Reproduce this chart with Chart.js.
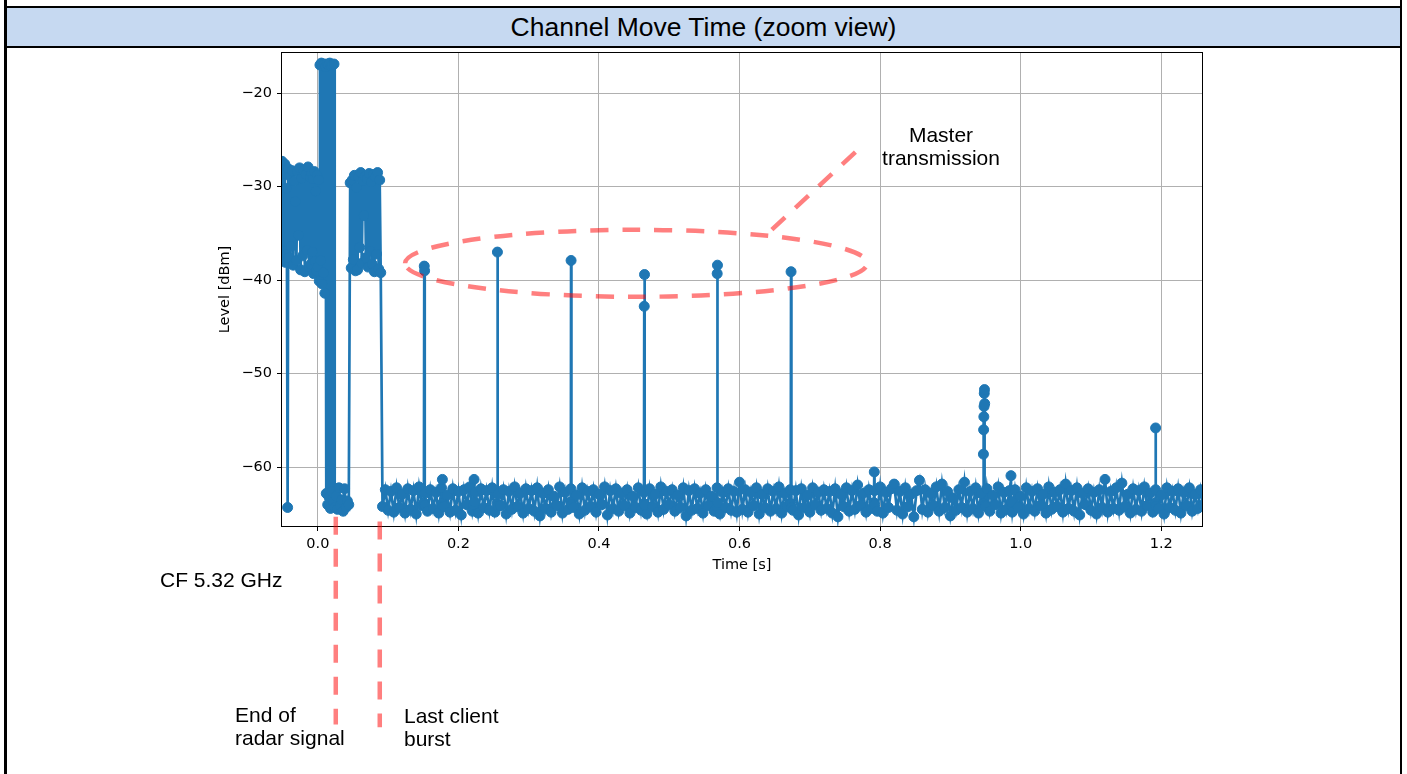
<!DOCTYPE html>
<html>
<head>
<meta charset="utf-8">
<title>Channel Move Time (zoom view)</title>
<script src="https://cdn.jsdelivr.net/npm/chart.js@4.4.1/dist/chart.umd.min.js"></script>
<style>
    body { margin: 0; width: 1407px; height: 774px; background: #fff; position: relative; overflow: hidden; font-family: "Liberation Sans", Arial, sans-serif; }
    .bar { position: absolute; background: #000; }
    #head { position: absolute; left: 7px; top: 8px; width: 1393px; height: 38px; background: #c6d9f1; text-align: center; font-size: 26.5px; line-height: 39px; color: #000; }
    #chart { position: absolute; left: 0; top: 0; }
    .note { position: absolute; font-size: 21px; line-height: 23.4px; color: #000; white-space: nowrap; }
</style>
</head>
<body>
<div class="bar" style="left:4px;top:6px;width:1398px;height:2px"></div>
<div id="head">Channel Move Time (zoom view)</div>
<div class="bar" style="left:4px;top:45.5px;width:1398px;height:2px"></div>
<div class="bar" style="left:4px;top:0;width:3px;height:774px"></div>
<div class="bar" style="left:1400px;top:0;width:2px;height:774px"></div>
<canvas id="chart" width="1407" height="774"></canvas>
<div class="note" style="left:880px;top:123px;width:122px;text-align:center">Master<br>transmission</div>
<div class="note" style="left:160px;top:568px">CF 5.32 GHz</div>
<div class="note" style="left:235px;top:703px">End of<br>radar signal</div>
<div class="note" style="left:404px;top:704px">Last client<br>burst</div>
<script>
// 时间单位 ms, 电平单位 dBm
// 雷达前的客户端突发
var burstATimes = [-51, -50, -49, -48, -47, -46, -45, -44, -43, -42, -41, -39.5, -38, -36.5, -35, -33.5, -32, -30.5, -29, -27.5, -26, -24.5, -23, -21.5, -20, -18.5, -17, -15.5, -14, -12.5]
var burstALevels = [-27.3, -37.8, -28.6, -36.9, -27.6, -38.1, -30.2, -37.2, -64.3, -28.1, -37.6, -28.9, -36.4, -28.3, -38.4, -29.4, -31.6, -37.9, -28.4, -35.2, -28.0, -38.9, -29.1, -37.4, -28.3, -39.1, -28.7, -36.8, -27.9, -38.6]

// 雷达信号
var radarTimes = [-11, -10, -9, -8, -7, -6, -5, -4, -3, -2, -1, 0, 1, 2, 3, 4, 5, 6, 7, 8, 9, 10, 11, 12, 13, 14, 15, 16, 17, 18, 19, 20, 21, 22, 23, 24]
var radarLevels = [-29.0, -38.3, -28.6, -37.0, -29.2, -39.3, -28.4, -38.0, -30.5, -39.0, -28.8, -38.6, -29.3, -40.1, -17.0, -37.9, -16.8, -40.4, -17.1, -39.2, -16.9, -41.4, -17.2, -62.8, -16.9, -64.0, -17.0, -63.2, -16.8, -64.4, -17.1, -62.6, -17.0, -63.7, -16.9, -64.3]

// 雷达结束后的底噪
var gapTimes = [26, 28, 30, 32, 34, 36, 38, 40, 42, 44]
var gapLevels = [-63.1, -64.5, -62.2, -64.1, -63.5, -64.7, -62.3, -64.3, -63.6, -64.0]

// 最后一个客户端突发
var burstBTimes = [46, 47.5, 49, 50.5, 52, 53.5, 55, 56.5, 58, 59.5, 61, 62.5, 64, 65.5, 67, 68.5, 70, 71.5, 73, 74.5, 76, 77.5, 79, 80.5, 82, 83.5, 85, 86.5, 88, 89.5]
var burstBLevels = [-29.6, -38.7, -29.3, -37.8, -28.8, -39.0, -30.1, -38.9, -29.0, -36.5, -28.5, -38.2, -29.4, -33.1, -28.9, -37.6, -29.2, -38.6, -28.6, -36.9, -29.5, -38.3, -28.7, -39.1, -29.0, -37.2, -28.5, -38.8, -29.3, -39.2]

// 底噪
var floorATimes = [92, 96, 100, 104, 108, 112, 116, 120, 124, 128, 132, 136, 140, 144, 148, 152, 156, 160, 164, 168, 172, 176, 180, 184, 188, 192, 196, 200, 204, 208, 212, 216, 220, 224, 228, 232, 236, 240, 244, 248, 252, 256, 260, 264, 268, 272, 276, 280, 284, 288, 292, 296, 300]
var floorALevels = [-64.2, -62.4, -64.6, -62.6, -64.8, -62.2, -64.3, -62.9, -64.9, -62.3, -64.5, -62.5, -65.0, -62.1, -64.1, -62.8, -64.7, -62.4, -64.4, -62.7, -64.9, -62.2, -64.2, -63.0, -64.8, -62.3, -64.6, -62.6, -65.1, -62.4, -64.0, -62.1, -64.7, -62.7, -64.9, -62.3, -64.3, -62.5, -64.6, -62.2, -64.8, -62.9, -64.1, -62.4, -65.0, -62.6, -64.5, -62.1, -64.2, -62.8, -64.9, -62.3, -64.4]

var floorBTimes = [304, 308, 312, 316, 320, 324, 328, 332, 336, 340, 344, 348, 352, 356, 360, 364, 368, 372, 376, 380, 384, 388, 392, 396, 400, 404, 408, 412, 416, 420, 424, 428, 432, 436, 440, 444, 448, 452, 456, 460, 464, 468, 472, 476, 480, 484, 488, 492, 496, 500, 504, 508, 512, 516, 520, 524, 528, 532, 536, 540, 544, 548, 552, 556, 560, 564, 568, 572, 576, 580, 584, 588, 592, 596, 600]
var floorBLevels = [-62.5, -64.7, -62.2, -65.2, -62.8, -64.4, -62.4, -64.8, -63.1, -64.1, -62.1, -64.9, -62.7, -64.5, -62.3, -64.3, -63.0, -65.0, -62.2, -64.6, -62.6, -64.2, -62.4, -64.8, -62.9, -64.0, -62.1, -65.1, -62.5, -64.4, -62.3, -64.7, -62.8, -64.1, -62.4, -64.9, -63.1, -64.3, -62.2, -64.6, -62.7, -65.0, -62.3, -64.2, -62.9, -64.8, -62.1, -64.5, -62.6, -64.0, -62.4, -64.7, -63.0, -64.3, -62.2, -65.2, -62.5, -64.6, -62.3, -64.4, -62.8, -64.9, -62.4, -64.1, -63.1, -64.7, -62.2, -65.0, -62.7, -64.3, -62.3, -64.6, -62.6, -64.8, -61.6]

var floorCTimes = [604, 608, 612, 616, 620, 624, 628, 632, 636, 640, 644, 648, 652, 656, 660, 664, 668, 672, 676, 680, 684, 688, 692, 696, 700, 704, 708, 712, 716, 720, 724, 728, 732, 736, 740, 744, 748, 752, 756, 760, 764, 768, 772, 776, 780, 784, 788, 792, 796, 800, 804, 808, 812, 816, 820, 824, 828, 832, 836, 840, 844, 848, 852, 856, 860, 864, 868, 872, 876, 880, 884, 888, 892, 896, 900]
var floorCLevels = [-64.5, -62.4, -64.8, -62.7, -64.1, -62.2, -65.0, -62.9, -64.3, -62.3, -64.7, -62.6, -64.4, -62.1, -64.9, -62.8, -64.2, -62.4, -64.6, -62.5, -65.1, -62.3, -64.3, -63.0, -64.8, -62.2, -64.0, -62.7, -64.6, -62.4, -64.4, -62.6, -64.9, -62.3, -65.3, -62.9, -64.2, -62.2, -64.7, -62.5, -64.5, -61.9, -64.1, -62.8, -64.8, -62.4, -64.4, -62.5, -64.7, -62.1, -64.9, -62.7, -64.3, -62.3, -61.8, -64.6, -62.6, -65.0, -62.2, -64.2, -62.9, -65.3, -62.5, -61.4, -64.5, -62.4, -64.8, -62.8, -64.1, -62.1, -64.7, -61.8, -64.3, -62.6, -65.2]

var floorDTimes = [904, 908, 912, 916, 920, 924, 928, 932, 936, 940, 944, 950, 952, 956, 960, 964, 968, 972, 976, 980, 984, 988, 992, 996, 1000, 1004, 1008, 1012, 1016, 1020, 1024, 1028, 1032, 1036, 1040, 1044, 1048, 1052, 1056, 1060, 1064, 1068, 1072, 1076, 1080, 1084, 1088, 1092, 1096, 1100, 1104, 1108, 1112, 1116, 1120, 1124, 1128, 1132, 1136, 1140, 1144, 1148, 1152, 1156, 1160, 1164, 1168, 1172, 1176, 1180, 1184, 1188, 1192, 1196, 1200, 1204, 1208, 1212, 1216, 1220, 1224, 1228, 1232, 1236, 1240, 1244, 1248, 1252, 1256, 1260]
var floorDLevels = [-63.3, -64.6, -62.4, -64.3, -61.6, -64.8, -62.6, -64.4, -62.2, -64.9, -62.8, -64.2, -62.3, -64.7, -63.0, -64.0, -62.1, -64.9, -62.7, -64.5, -62.5, -64.8, -62.4, -64.3, -63.1, -65.0, -62.2, -64.4, -62.6, -64.7, -62.3, -64.1, -62.9, -64.9, -62.1, -64.5, -62.7, -64.2, -62.4, -64.8, -61.8, -64.4, -62.5, -64.7, -62.2, -65.1, -62.8, -64.0, -62.3, -64.6, -62.7, -65.0, -62.4, -64.3, -61.3, -64.8, -62.6, -64.4, -62.2, -64.6, -61.7, -64.2, -62.9, -64.9, -62.3, -64.5, -62.5, -64.7, -62.1, -64.1, -62.8, -64.8, -62.4, -64.4, -63.0, -65.0, -62.2, -64.3, -62.6, -64.6, -62.3, -64.9, -62.7, -64.1, -62.2, -64.7, -62.9, -64.4, -62.4, -64.0]

// 主机发射及其他尖峰
var spikeTimes = [150.9, 151.4, 151.9, 152.4, 176.6, 177.2, 177.8, 221.7, 222.3, 222.9, 255.1, 255.5, 256.0, 359.8, 360.3, 360.8, 464.0, 464.4, 464.8, 465.2, 567.8, 568.2, 568.6, 569.0, 672.8, 673.3, 673.8, 791.2, 791.7, 792.2, 946.6, 947.0, 947.3, 947.6, 947.9, 948.2, 948.5, 948.8, 949.2, 985.7, 986.2, 986.7, 1191.5, 1192.0, 1192.5]
var spikeLevels = [-63.8, -38.5, -39.0, -64.1, -63.9, -61.3, -64.2, -64.0, -61.3, -63.7, -63.9, -37.0, -64.2, -63.7, -37.9, -64.0, -63.9, -42.8, -39.4, -64.1, -64.2, -39.3, -38.4, -63.8, -63.9, -39.1, -64.3, -63.8, -60.5, -64.0, -63.9, -58.6, -56.0, -54.6, -53.5, -52.1, -51.7, -53.2, -64.1, -64.0, -60.9, -63.7, -63.8, -55.8, -64.2]

// 坐标轴
var xRange = [-0.051, 1.258]
var yRange = [-66.28, -15.72]
var xTickValues = [0, 0.2, 0.4, 0.6, 0.8, 1.0, 1.2]
var yTickValues = [-60, -50, -40, -30, -20]

// 标注 (秒, dBm)
var notes = {
    radarEnd: { t: 0.0255, from: -65.3, to: -87.5 },
    lastBurst: { t: 0.0881, from: -65.8, to: -87.8 },
    ellipse: { t: 0.4529, level: -38.2, halfT: 0.3288, halfLevel: 3.58 },
    pointer: { t1: 0.646, l1: -34.6, t2: 0.7693, l2: -26.0 }
}

function pairs(times, levels) {
    return times.map(function (t, i) {
        return { x: t / 1000, y: levels[i] }
    })
}

var points = [].concat(
    pairs(burstATimes, burstALevels),
    pairs(radarTimes, radarLevels),
    pairs(gapTimes, gapLevels),
    pairs(burstBTimes, burstBLevels),
    pairs(floorATimes, floorALevels),
    pairs(floorBTimes, floorBLevels),
    pairs(floorCTimes, floorCLevels),
    pairs(floorDTimes, floorDLevels),
    pairs(spikeTimes, spikeLevels)
).sort(function (a, b) { return a.x - b.x })

//边框
var framePlugin = {
    id: 'frame',
    afterDatasetsDraw: function (chart) {
        var a = chart.chartArea, ctx = chart.ctx
        ctx.save()
        ctx.strokeStyle = '#000'
        ctx.lineWidth = 1
        ctx.strokeRect(Math.round(a.left) - 0.5, Math.round(a.top) - 0.5, Math.round(a.right - a.left) + 1, Math.round(a.bottom - a.top) + 1)
        ctx.restore()
    }
}

//红色虚线标注
var notesPlugin = {
    id: 'notes',
    afterDraw: function (chart) {
        var ctx = chart.ctx, xs = chart.scales.x, ys = chart.scales.y
        ctx.save()
        ctx.strokeStyle = 'rgba(255, 0, 0, 0.5)'
        ctx.lineWidth = 4.5
        ctx.setLineDash([18, 14])
        ;[notes.radarEnd, notes.lastBurst].forEach(function (n) {
            var x = xs.getPixelForValue(n.t)
            ctx.beginPath()
            ctx.moveTo(x, ys.getPixelForValue(n.from))
            ctx.lineTo(x, ys.getPixelForValue(n.to))
            ctx.stroke()
        })
        var e = notes.ellipse
        var cx = xs.getPixelForValue(e.t), cy = ys.getPixelForValue(e.level)
        var rx = xs.getPixelForValue(e.t + e.halfT) - cx
        var ry = cy - ys.getPixelForValue(e.level + e.halfLevel)
        ctx.beginPath()
        ctx.ellipse(cx, cy, rx, ry, 0, Math.PI, 3 * Math.PI)
        ctx.stroke()
        var p = notes.pointer
        ctx.beginPath()
        ctx.moveTo(xs.getPixelForValue(p.t1), ys.getPixelForValue(p.l1))
        ctx.lineTo(xs.getPixelForValue(p.t2), ys.getPixelForValue(p.l2))
        ctx.stroke()
        ctx.restore()
    }
}

Chart.defaults.font.family = "'DejaVu Sans', sans-serif"
Chart.defaults.font.size = 14.5
Chart.defaults.color = '#000'

new Chart(document.getElementById('chart').getContext('2d'), {
    type: 'scatter',
    data: {
        datasets: [
            {
                label: 'Level',
                data: points,
                showLine: true,
                borderColor: '#1f77b4',
                borderWidth: 2.7,
                backgroundColor: '#1f77b4',
                pointRadius: 5,
                pointBorderWidth: 1,
                pointBackgroundColor: '#1f77b4',
                pointBorderColor: '#1f77b4',
                tension: 0,
                clip: 0
            }
        ]
    },
    options: {
        responsive: false,
        animation: false,
        devicePixelRatio: 1,
        layout: { padding: { left: 212, right: 205, top: 53, bottom: 198 } },
        plugins: { legend: { display: false }, tooltip: { enabled: false } },
        scales: {
            x: {
                type: 'linear',
                min: xRange[0],
                max: xRange[1],
                afterBuildTicks: function (s) { s.ticks = xTickValues.map(function (v) { return { value: v } }) },
                afterFit: function (s) { s.height = 50 },
                ticks: { autoSkip: false, maxRotation: 0, padding: 5, callback: function (v) { return v.toFixed(1) } },
                grid: { color: '#b0b0b0', lineWidth: 1, tickLength: 5, tickColor: '#000', tickWidth: 1 },
                border: { display: false },
                title: { display: true, text: 'Time [s]', padding: { top: 0, bottom: 2 } }
            },
            y: {
                type: 'linear',
                min: yRange[0],
                max: yRange[1],
                afterBuildTicks: function (s) { s.ticks = yTickValues.map(function (v) { return { value: v } }) },
                afterFit: function (s) { s.width = 70 },
                ticks: { autoSkip: false, padding: 5, callback: function (v) { return '\u2212' + Math.abs(v) } },
                grid: { color: '#b0b0b0', lineWidth: 1, tickLength: 5, tickColor: '#000', tickWidth: 1 },
                border: { display: false },
                title: { display: true, text: 'Level [dBm]', padding: { top: 5, bottom: 0 } }
            }
        }
    },
    plugins: [framePlugin, notesPlugin]
})
</script>
</body>
</html>
